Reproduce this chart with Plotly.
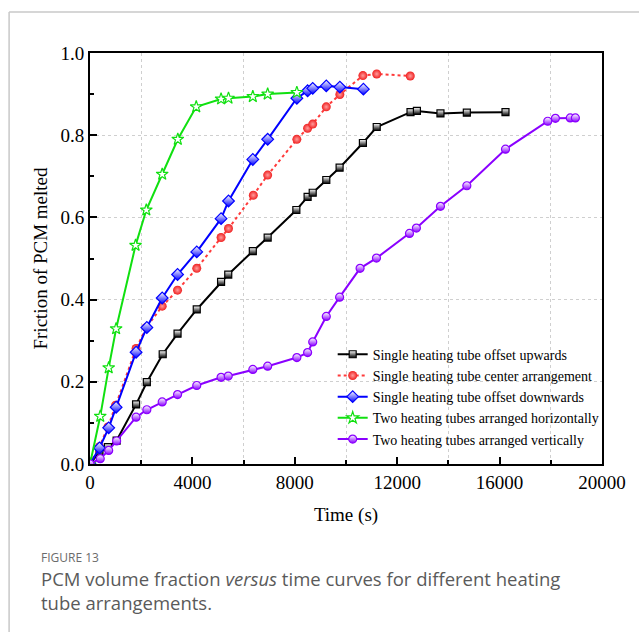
import plotly.graph_objects as go

# Melted PCM fraction over time for five heating tube arrangements
t_up = [0, 370, 700, 1040, 1800, 2220, 2840, 3420, 4170, 5120, 5400, 6360, 6940, 8060, 8500, 8700, 9230, 9750, 10660, 11200, 12520, 12770, 13690, 14720, 16230]
f_up = [0.0, 0.029, 0.041, 0.057, 0.145, 0.199, 0.267, 0.317, 0.376, 0.443, 0.461, 0.518, 0.551, 0.618, 0.650, 0.660, 0.691, 0.721, 0.781, 0.820, 0.856, 0.859, 0.853, 0.855, 0.856]

t_center = [0, 370, 700, 1000, 1800, 2200, 2820, 3420, 4170, 5120, 5410, 6380, 6940, 8080, 8500, 8700, 9230, 9760, 10660, 11200, 12510]
f_center = [0.0, 0.042, 0.090, 0.143, 0.281, 0.332, 0.384, 0.423, 0.476, 0.551, 0.573, 0.654, 0.703, 0.790, 0.817, 0.827, 0.869, 0.899, 0.945, 0.949, 0.944]

t_down = [0, 370, 730, 1020, 1800, 2220, 2820, 3420, 4170, 5120, 5410, 6360, 6940, 8080, 8500, 8700, 9230, 9760, 10680]
f_down = [0.0, 0.039, 0.088, 0.138, 0.272, 0.332, 0.404, 0.461, 0.516, 0.597, 0.640, 0.741, 0.790, 0.890, 0.908, 0.914, 0.920, 0.917, 0.912]

t_horiz = [0, 400, 730, 1020, 1780, 2200, 2820, 3430, 4150, 5120, 5410, 6360, 6940, 8080]
f_horiz = [0.0, 0.116, 0.234, 0.329, 0.532, 0.618, 0.705, 0.790, 0.869, 0.888, 0.890, 0.894, 0.900, 0.904]

t_vert = [0, 400, 730, 1040, 1800, 2220, 2820, 3420, 4170, 5120, 5400, 6360, 6940, 8080, 8500, 8700, 9230, 9750, 10550, 11190, 12480, 12750, 13690, 14720, 16230, 17880, 18180, 18760, 18960]
f_vert = [0.0, 0.013, 0.033, 0.056, 0.114, 0.132, 0.151, 0.169, 0.191, 0.211, 0.214, 0.230, 0.238, 0.259, 0.271, 0.297, 0.359, 0.406, 0.476, 0.501, 0.561, 0.574, 0.627, 0.677, 0.766, 0.834, 0.841, 0.842, 0.842]

names = [
    "Single heating tube offset upwards",
    "Single heating tube center arrangement",
    "Single heating tube offset downwards",
    "Two heating tubes arranged horizontally",
    "Two heating tubes arranged vertically",
]

x_ticks = [0, 4000, 8000, 12000, 16000, 20000]
y_ticks = [0.0, 0.2, 0.4, 0.6, 0.8, 1.0]

SERIF = "Liberation Serif"
SANS = "Open Sans"

fig = go.Figure()

fig.add_trace(go.Scatter(
    x=t_up, y=f_up, name=names[0], mode="lines+markers",
    line=dict(color="black", width=2),
    marker=dict(symbol="square", size=7, color="white",
                line=dict(color="black", width=1.2),
                gradient=dict(type="vertical", color="black")),
))
fig.add_trace(go.Scatter(
    x=t_center, y=f_center, name=names[1], mode="lines+markers",
    line=dict(color="#ff3b3b", width=2, dash="dot"),
    marker=dict(symbol="circle", size=9, color="#f02020",
                line=dict(width=0),
                gradient=dict(type="radial", color="#ff9c9c")),
))
fig.add_trace(go.Scatter(
    x=t_down, y=f_down, name=names[2], mode="lines+markers",
    line=dict(color="#0000ff", width=2),
    marker=dict(symbol="diamond", size=9, color="white",
                line=dict(color="#0000ff", width=1.2),
                gradient=dict(type="vertical", color="#0000ff")),
))
fig.add_trace(go.Scatter(
    x=t_horiz, y=f_horiz, name=names[3], mode="lines+markers",
    line=dict(color="#10e010", width=2),
    marker=dict(symbol="star", size=9, color="white",
                line=dict(color="#10e010", width=1.2)),
))
fig.add_trace(go.Scatter(
    x=t_vert, y=f_vert, name=names[4], mode="lines+markers",
    line=dict(color="#8a00ff", width=2),
    marker=dict(symbol="circle", size=8, color="white",
                line=dict(color="#8a00ff", width=1.2),
                gradient=dict(type="vertical", color="#8a00ff")),
))

grid_col = "#cfcfcf"

fig.update_xaxes(
    range=[0, 20000], tickvals=x_ticks, ticktext=[str(v) for v in x_ticks],
    ticks="inside", ticklen=7, tickwidth=1.5, tickcolor="black",
    showline=True, linecolor="black", linewidth=2, mirror=True,
    showgrid=False, zeroline=False,
    minor=dict(tick0=2000, dtick=4000, ticks="inside", ticklen=4, tickwidth=1.5,
               tickcolor="black", showgrid=True, gridcolor=grid_col,
               griddash="dot", gridwidth=1),
    tickfont=dict(family=SERIF, size=19, color="black"),
    title=dict(text="Time (s)", font=dict(family=SERIF, size=19, color="black"),
               standoff=16),
)
fig.update_yaxes(
    range=[0, 1.0], tickvals=y_ticks, ticktext=[f"{v:.1f}" for v in y_ticks],
    ticks="inside", ticklen=7, tickwidth=1.5, tickcolor="black",
    showline=True, linecolor="black", linewidth=2, mirror=True,
    showgrid=True, gridcolor=grid_col, griddash="dot", gridwidth=1,
    zeroline=False,
    minor=dict(tick0=0.1, dtick=0.2, ticks="inside", ticklen=4, tickwidth=1.5,
               tickcolor="black", showgrid=False),
    tickfont=dict(family=SERIF, size=19, color="black"),
    title=dict(text="Friction of PCM melted",
               font=dict(family=SERIF, size=19, color="black"), standoff=8),
)

fig.update_layout(
    width=639, height=632,
    margin=dict(l=90, r=37, t=53, b=168),
    paper_bgcolor="white", plot_bgcolor="white",
    showlegend=True,
    legend=dict(
        x=0.474, y=0.305, xanchor="left", yanchor="top",
        bgcolor="rgba(0,0,0,0)", borderwidth=0,
        font=dict(family=SERIF, size=14, color="black"),
        tracegroupgap=0, itemwidth=30,
    ),
    annotations=[
        dict(text="FIGURE 13", xref="paper", yref="paper",
             x=-0.1, y=-0.2275, xanchor="left", yanchor="middle", showarrow=False,
             font=dict(family=SANS, size=12, color="#6b6b6b")),
        dict(text="PCM volume fraction <i>versus</i> time curves for different heating<br>tube arrangements.",
             xref="paper", yref="paper", x=-0.1, y=-0.3078, xanchor="left",
             yanchor="middle", align="left", showarrow=False,
             font=dict(family=SANS, size=18.5, color="#5a5a5a")),
    ],
    shapes=[
        dict(type="line", xref="paper", yref="paper", x0=-0.158, x1=1.08,
             y0=1.1, y1=1.1, line=dict(color="#c8c8c8", width=1.5)),
        dict(type="line", xref="paper", yref="paper", x0=-0.158, x1=-0.158,
             y0=1.1, y1=-0.42, line=dict(color="#c8c8c8", width=1.5)),
    ],
)

fig.write_html("out.html")
